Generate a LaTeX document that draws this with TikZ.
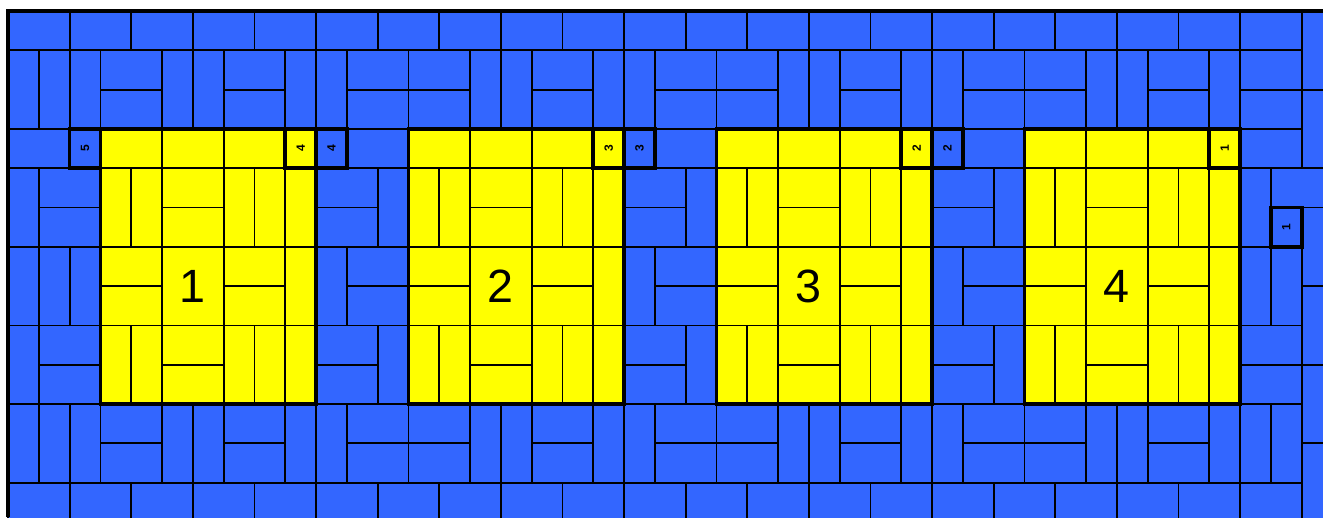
\documentclass[tikz,border=0pt]{standalone}
\usepackage{fontspec}
\setmainfont{Liberation Sans}
\definecolor{TileBlue}{RGB}{51, 102, 255}
\definecolor{TileYellow}{RGB}{255, 255, 0}
\tikzset{
  tile/.style={draw=black, line width=1.35pt, fill=#1},
  frame/.style={draw=black, line width=2.8pt},
  bignum/.style={font=\fontsize{35}{40}\selectfont, text=black},
  tagnum/.style={font=\fontsize{9}{10}\selectfont\bfseries, text=black,
                 rotate=90, inner sep=0pt},
}
% dominoes on the grid: column, row, colour
\newcommand{\hdomino}[3]{\draw[tile=#3] (#1,#2) rectangle ++(2,1);}
\newcommand{\vdomino}[3]{\draw[tile=#3] (#1,#2) rectangle ++(1,2);}
\newcommand{\hhdomino}[3]{\hdomino{#1}{#2}{#3}\hdomino{#1}{#2+1}{#3}}
\newcommand{\onecell}[3]{\draw[tile=#3] (#1,#2) rectangle ++(1,1);}

\begin{document}
\begin{tikzpicture}[x=23.1pt, y=-29.475pt]
  \useasboundingbox (-0.26,-0.28) rectangle (42.69,12.875);
  \fill[white] (-0.26,-0.28) rectangle (42.69,12.875);
  \clip (-0.26,-0.28) rectangle (42.69,12.875);

  % top and bottom rows, right edge
  \foreach \c in {0,2,...,40} {
    \hdomino{\c}{0}{TileBlue}
    \hdomino{\c}{12}{TileBlue}
  }
  \foreach \r in {0,2,5,7,9,11} {\vdomino{42}{\r}{TileBlue}}
  \hdomino{41}{4}{TileBlue}

  % bands above and below the squares
  \foreach \r in {1,10} {
    \foreach \c in {0,1,2} {\vdomino{\c}{\r}{TileBlue}}
    \foreach \b in {3,13,23,33} {
      \hhdomino{\b}{\r}{TileBlue}
      \vdomino{\b+2}{\r}{TileBlue}
      \vdomino{\b+3}{\r}{TileBlue}
      \hhdomino{\b+4}{\r}{TileBlue}
      \vdomino{\b+6}{\r}{TileBlue}
    }
    \foreach \g in {10,20,30} {
      \vdomino{\g}{\r}{TileBlue}
      \hhdomino{\g+1}{\r}{TileBlue}
    }
  }
  \hhdomino{40}{1}{TileBlue}
  \vdomino{40}{10}{TileBlue}
  \vdomino{41}{10}{TileBlue}

  % left strip
  \hdomino{0}{3}{TileBlue}
  \onecell{2}{3}{TileBlue}
  \vdomino{0}{4}{TileBlue}
  \hhdomino{1}{4}{TileBlue}
  \foreach \c in {0,1,2} {\vdomino{\c}{6}{TileBlue}}
  \vdomino{0}{8}{TileBlue}
  \hhdomino{1}{8}{TileBlue}

  % strips between the squares
  \foreach \g in {10,20,30} {
    \onecell{\g}{3}{TileBlue}
    \hdomino{\g+1}{3}{TileBlue}
    \hhdomino{\g}{4}{TileBlue}
    \vdomino{\g+2}{4}{TileBlue}
    \vdomino{\g}{6}{TileBlue}
    \hhdomino{\g+1}{6}{TileBlue}
    \hhdomino{\g}{8}{TileBlue}
    \vdomino{\g+2}{8}{TileBlue}
  }

  % right strip
  \hdomino{40}{3}{TileBlue}
  \vdomino{40}{4}{TileBlue}
  \onecell{41}{5}{TileBlue}
  \vdomino{40}{6}{TileBlue}
  \vdomino{41}{6}{TileBlue}
  \hdomino{40}{8}{TileBlue}
  \hdomino{40}{9}{TileBlue}

  % yellow squares
  \foreach \b/\n/\t in {3/1/4, 13/2/3, 23/3/2, 33/4/1} {
    \hdomino{\b}{3}{TileYellow}
    \hdomino{\b+2}{3}{TileYellow}
    \hdomino{\b+4}{3}{TileYellow}
    \onecell{\b+6}{3}{TileYellow}
    \foreach \r in {4,8} {
      \vdomino{\b}{\r}{TileYellow}
      \vdomino{\b+1}{\r}{TileYellow}
      \hhdomino{\b+2}{\r}{TileYellow}
      \vdomino{\b+4}{\r}{TileYellow}
      \vdomino{\b+5}{\r}{TileYellow}
      \vdomino{\b+6}{\r}{TileYellow}
    }
    \hhdomino{\b}{6}{TileYellow}
    \draw[tile=TileYellow] (\b+2,6) rectangle ++(2,2);
    \hhdomino{\b+4}{6}{TileYellow}
    \vdomino{\b+6}{6}{TileYellow}
    \draw[frame] (\b,3) rectangle ++(7,7);
    \node[bignum] (num\n) at (\b+3,7) {\n};
    \draw[frame] (\b+6,3) rectangle ++(1,1);
    \node[tagnum] (tagin\n) at (\b+6.5,3.5) {\t};
  }

  % numbered blue cells
  \foreach \c/\r/\t in {2/3/5, 10/3/4, 20/3/3, 30/3/2, 41/5/1} {
    \draw[frame] (\c,\r) rectangle ++(1,1);
    \node[tagnum] (tagout\t) at (\c+0.5,\r+0.5) {\t};
  }

  % outer edge
  \draw[frame] (0,12.875) -- (0,0) -- (42.69,0);
\end{tikzpicture}
\end{document}
